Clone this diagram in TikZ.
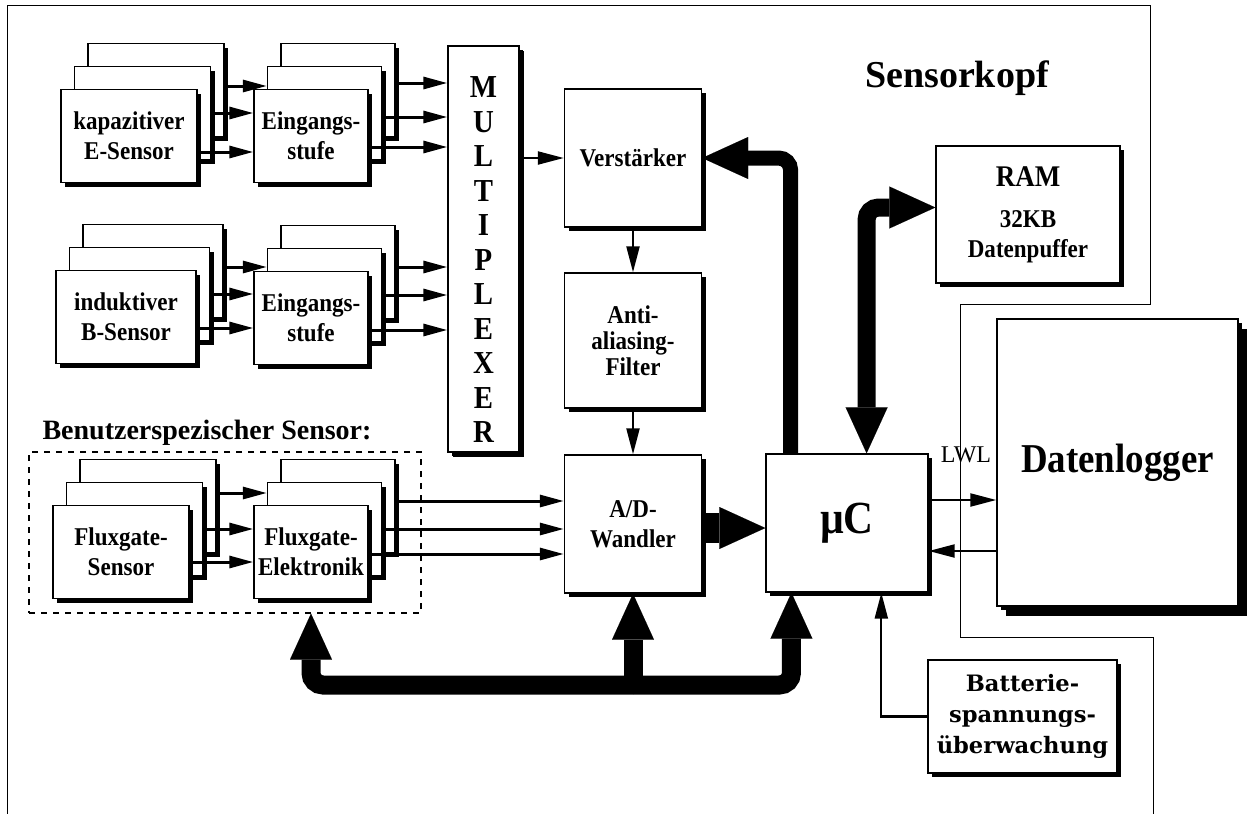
\documentclass[tikz,border=0pt]{standalone}
\usepackage{fontspec}
\setmainfont{Liberation Serif}
\newfontfamily\boxfont{Liberation Serif}[FakeStretch=0.9]
\newfontfamily\batfont{DejaVu Serif}
\usetikzlibrary{arrows.meta, positioning, calc, shadows}

\begin{document}
\begin{tikzpicture}[x=0.5pt, y=-0.5pt,
        box/.style={draw, fill=white, line width=0.7pt, align=center, inner sep=1pt,
                    minimum height=46.5pt, font=\boxfont\bfseries\fontsize{12.8}{14.8}\selectfont,
                    drop shadow={shadow xshift=2pt, shadow yshift=-2pt, fill=black, opacity=1}},
        bigbox/.style={box, minimum width=68.5pt, minimum height=69pt},
        sig/.style={line width=1.5pt, -{Triangle[length=12pt, width=6pt]}},
        ctl/.style={line width=1.1pt, -{Triangle[length=13pt, width=6.5pt]}},
        bus/.style={line width=9.5pt, rounded corners=6pt},
        bigtip/.tip={Triangle[length=23pt, width=21pt, line width=0.01pt]}
    ]
    \useasboundingbox[fill=white] (0,0) rectangle (1248,814);
    % Sensorkopf housing
    \draw[line width=0.5pt] (7,814) -- (7,5) -- (1150,5) -- (1150,304) -- (960,304)
        -- (960,637) -- (1153,637) -- (1153,814);
    \node[font=\bfseries\fontsize{19}{22}\selectfont] (kopf) at (957,78) {Sensorkopf};

    % user sensor
    \node[draw, dashed, line width=0.6pt, minimum width=196pt, minimum height=80.5pt] (usr) at (225,532.5) {};
    \node[font=\bfseries\fontsize{14}{16}\selectfont] (usrlbl) at (207,433) {Benutzerspezischer Sensor:};

    % stacked channels
    \foreach \nm/\cx/\cy/\w/\txt in {kap/129/136/68/{kapazitiver\\E-Sensor},
                                      ind/126/317/70/{induktiver\\B-Sensor},
                                      flx/121/552/68/{Fluxgate-\\Sensor},
                                      ein/311/136/57/{Eingangs-\\stufe},
                                      eib/311/318/57/{Eingangs-\\stufe},
                                      fge/311/552/57/{Fluxgate-\\Elektronik}}{
        \node[box, minimum width=\w pt] (\nm3) at (\cx+27,\cy-46) {};
        \node[box, minimum width=\w pt] (\nm2) at (\cx+13.5,\cy-23) {};
        \node[box, minimum width=\w pt] (\nm1) at (\cx,\cy) {\txt};
    }

    \node[box, minimum width=35.5pt, minimum height=203pt,
          font=\boxfont\bfseries\fontsize{16}{17.25}\selectfont,
          drop shadow={shadow xshift=2.5pt, shadow yshift=-2.5pt, fill=black, opacity=1}] (mux) at (483.5,249)
        {\rule{0pt}{21pt}M\\U\\L\\T\\I\\P\\L\\E\\X\\E\\R};
    \node[bigbox] (vst) at (633,158) {Verstärker};
    \node[bigbox, minimum height=67.5pt, font=\boxfont\bfseries\fontsize{12.8}{12.9}\selectfont] (aaf) at (633,340.5)
        {Anti-\\aliasing-\\Filter};
    \node[bigbox] (adw) at (633,524) {A/D-\\Wandler};
    \node[box, minimum width=81pt, minimum height=69pt,
          font=\boxfont\bfseries\fontsize{23}{25}\selectfont] (uc) at (847,523) {µC};
    \node[box, minimum width=92pt, minimum height=68.5pt] (ram) at (1028,214.5)
        {{\fontsize{15}{17}\selectfont RAM}\\[6pt]32KB\\Datenpuffer};
    \node[box, minimum width=120.5pt, minimum height=143.5pt,
          font=\boxfont\bfseries\fontsize{20.5}{22}\selectfont,
          drop shadow={shadow xshift=4.5pt, shadow yshift=-5pt, fill=black, opacity=1}] (dl) at (1117.5,462.5) {Datenlogger};
    \node[box, minimum width=94.5pt, minimum height=56.5pt,
          font=\batfont\bfseries\fontsize{11.3}{15.5}\selectfont] (bat) at (1022.5,716.5)
        {Batterie-\\spannungs-\\überwachung};
    \node[font=\fontsize{12}{14}\selectfont] (lwl) at (966,455) {LWL};

    % signal paths
    \foreach \a/\b/\s in {kap3/ein2/2, kap2/ein1/0, kap1/ein1/-8,
                          ind3/eib2/2, ind2/eib1/0, ind1/eib1/-5.5,
                          flx3/fge2/6.5, flx2/fge1/0, flx1/fge1/-5}
        \draw[sig] ([yshift=\s pt]\a.east) -- ([yshift=\s pt]\a.east -| \b.west);
    \foreach \a/\s in {ein3/3.5, ein2/-2, ein1/-5.5, eib3/2.5, eib2/0, eib1/-6}
        \draw[sig] ([yshift=\s pt]\a.east) -- ([yshift=\s pt]\a.east -| mux.west);
    \foreach \a/\s in {fge3/2.5, fge2/0, fge1/-1}
        \draw[sig] ([yshift=\s pt]\a.east) -- ([yshift=\s pt]\a.east -| adw.west);

    \draw[ctl] (mux.east |- vst.west) -- (vst.west);
    \draw[ctl] (vst.south) -- (aaf.north);
    \draw[ctl] (aaf.south) -- (adw.north);
    \draw[line width=15pt, -bigtip] ([yshift=-2pt]adw.east) -- ([yshift=-2pt]adw.east -| uc.west);

    % buses
    \coordinate (ucfb) at ($(uc.north west)!0.155!(uc.north east)$);
    \coordinate (ucmem) at ($(uc.north west)!0.62!(uc.north east)$);
    \coordinate (ucbus) at ($(uc.south west)!0.16!(uc.south east)$);
    \coordinate (ucbat) at ($(uc.south west)!0.71!(uc.south east)$);
    \coordinate (bus) at (adw.south |- 0,685);
    \draw[bus, -bigtip] (bus) -- (adw.south);
    \draw[bus, -bigtip] (bus) -| (fge1 |- usr.south);
    \draw[bus, -bigtip] (bus) -| (ucbus);
    \draw[bus, line width=7.5pt, -bigtip] (ucfb) |- (vst.east);
    \draw[bus, line width=9pt, bigtip-bigtip] (ucmem) |- ([yshift=3.5pt]ram.west);

    % LWL and battery
    \draw[ctl] ([yshift=11.5pt]uc.east) -- ([yshift=11.5pt]uc.east -| dl.west);
    \draw[ctl] ([yshift=-14pt]uc.east -| dl.west) -- ([yshift=-14pt]uc.east);
    \draw[ctl] (bat.west) -| (ucbat);
\end{tikzpicture}
\end{document}
